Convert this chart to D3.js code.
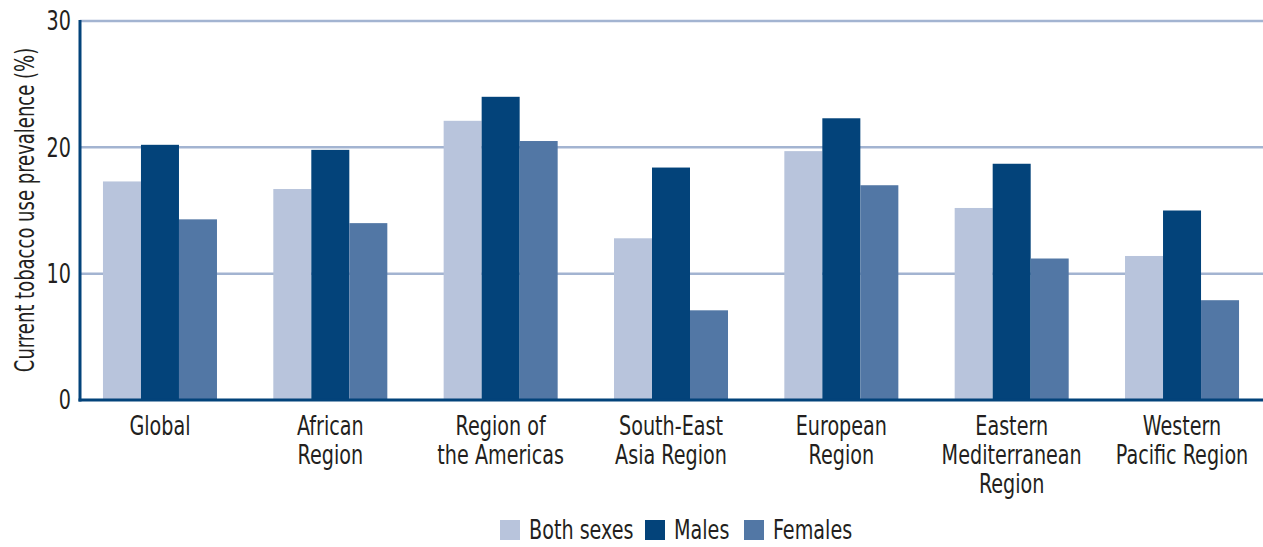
<!DOCTYPE html>
<html>
<head>
<meta charset="utf-8">
<script src="https://cdn.jsdelivr.net/npm/d3@7"></script>
<style>
  html, body { margin: 0; padding: 0; background: #ffffff; }
  svg { display: block; }
  text { font-family: "DejaVu Sans Condensed", "DejaVu Sans", sans-serif; font-stretch: condensed; fill: #231f20; }
</style>
</head>
<body>
<svg id="chart" width="1263" height="547"></svg>
<script>
const categories = [
  ["Global"],
  ["African", "Region"],
  ["Region of", "the Americas"],
  ["South-East", "Asia Region"],
  ["European", "Region"],
  ["Eastern", "Mediterranean", "Region"],
  ["Western", "Pacific Region"]
];
const seriesNames = ["Both sexes", "Males", "Females"];
const bothSexes = [17.3, 16.7, 22.1, 12.8, 19.7, 15.2, 11.4];
const males     = [20.2, 19.8, 24.0, 18.4, 22.3, 18.7, 15.0];
const females   = [14.3, 14.0, 20.5, 7.1, 17.0, 11.2, 7.9];
const yTicks = [0, 10, 20, 30];
const colors = ["#b8c4dc", "#03437a", "#5277a5"];

const series = [bothSexes, males, females];
const svg = d3.select("#chart");

const FS = 26, SX = 0.82;
const plotLeft = 80, plotRight = 1263, plotTop = 21, plotBottom = 400;

const y = d3.scaleLinear().domain([0, 30]).range([plotBottom, plotTop]);
const catKeys = categories.map((c, i) => i);
const pIn = 0.3307;
const x0 = d3.scaleBand().domain(catKeys).range([74.8, 1267.2])
  .paddingInner(pIn).paddingOuter(pIn / 2);
const x1 = d3.scaleBand().domain([0, 1, 2]).range([0, x0.bandwidth()]);

// gridlines
svg.append("g").selectAll("line").data(yTicks.filter(t => t > 0)).join("line")
  .attr("x1", plotLeft).attr("x2", plotRight)
  .attr("y1", d => y(d)).attr("y2", d => y(d))
  .attr("stroke", "#a3b4d1").attr("stroke-width", 2.5);

// bars
const groups = svg.append("g").selectAll("g").data(catKeys).join("g")
  .attr("transform", i => `translate(${x0(i)},0)`);
groups.selectAll("rect").data(i => series.map((s, k) => ({ k, v: s[i] }))).join("rect")
  .attr("x", d => x1(d.k))
  .attr("width", x1.bandwidth())
  .attr("y", d => y(d.v))
  .attr("height", d => y(0) - y(d.v))
  .attr("fill", d => colors[d.k]);

// axes lines
svg.append("line").attr("x1", plotLeft).attr("x2", plotLeft)
  .attr("y1", y(30) - 1).attr("y2", plotBottom + 1.5)
  .attr("stroke", "#03437a").attr("stroke-width", 3);
svg.append("line").attr("x1", plotLeft - 1.5).attr("x2", plotRight)
  .attr("y1", plotBottom).attr("y2", plotBottom)
  .attr("stroke", "#03437a").attr("stroke-width", 3);

// y tick labels
svg.append("g").selectAll("text").data(yTicks).join("text")
  .attr("transform", d => `translate(71,${y(d)}) scale(${SX},1)`)
  .attr("dy", "0.36em")
  .attr("text-anchor", "end")
  .attr("font-size", FS)
  .text(d => d);

// y title
svg.append("text")
  .attr("transform", `translate(34,210) rotate(-90) scale(0.77,1)`)
  .attr("text-anchor", "middle")
  .attr("font-size", FS)
  .text("Current tobacco use prevalence (%)");

// category labels
const labels = svg.append("g").selectAll("text").data(catKeys).join("text")
  .attr("text-anchor", "middle")
  .attr("font-size", FS)
  .attr("transform", i => `translate(${x0(i) + x0.bandwidth() / 2},435) scale(${SX},1)`);
labels.selectAll("tspan").data(i => categories[i]).join("tspan")
  .attr("x", 0)
  .attr("dy", (d, j) => j === 0 ? 0 : 29)
  .text(d => d);

// legend
const legendItems = [
  { name: seriesNames[0], sx: 500 },
  { name: seriesNames[1], sx: 645 },
  { name: seriesNames[2], sx: 744 }
];
const lg = svg.append("g").selectAll("g").data(legendItems).join("g");
lg.append("rect").attr("x", d => d.sx).attr("y", 520).attr("width", 20).attr("height", 20)
  .attr("fill", (d, i) => colors[i]);
lg.append("text")
  .attr("transform", d => `translate(${d.sx + 29},539) scale(${SX},1)`)
  .attr("font-size", FS).text(d => d.name);
</script>
</body>
</html>
